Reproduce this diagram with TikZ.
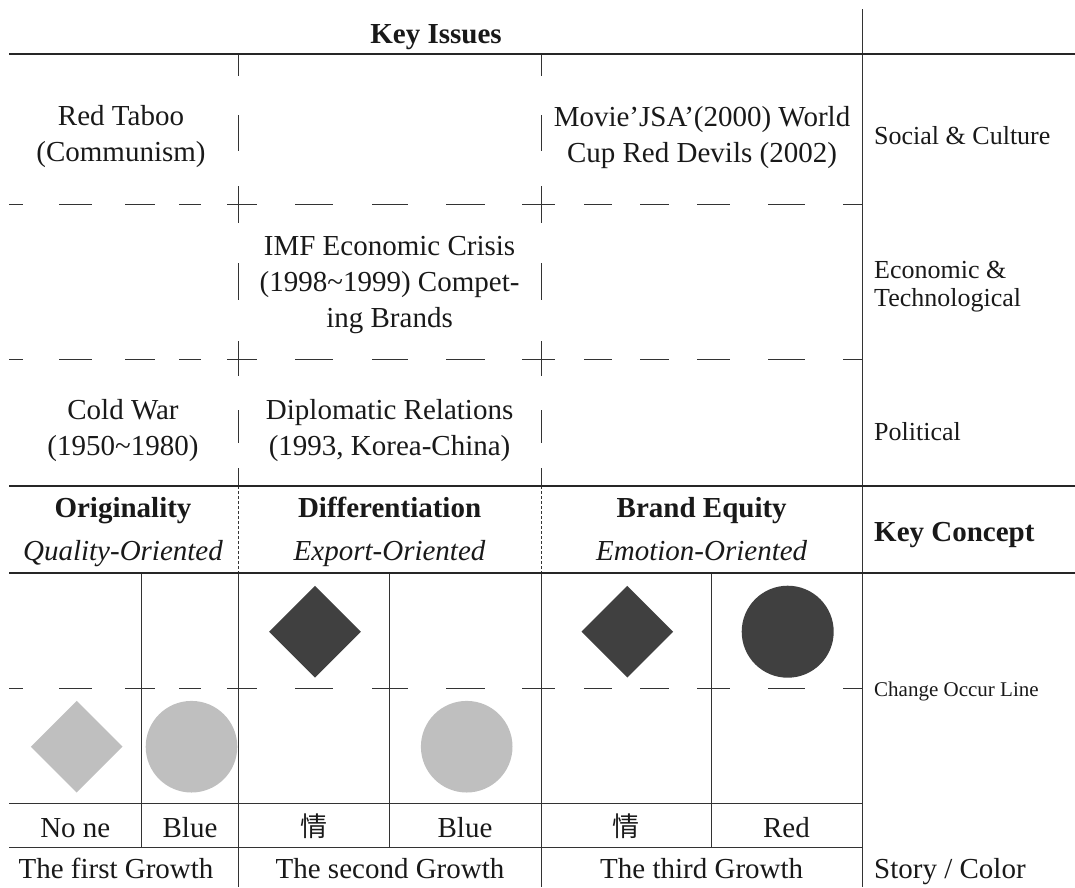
\documentclass[tikz,border=0pt]{standalone}
\usepackage{fontspec}
\setmainfont{Liberation Serif}
\newfontfamily\cjkfont{Noto Sans CJK SC}
\begin{document}
\begin{tikzpicture}[x=1pt,y=-1pt,
  thinline/.style={line width=0.9pt, draw=black!80},
  fineline/.style={line width=0.6pt, draw=black!80, dash pattern=on 3pt off 2pt},
  thickline/.style={line width=2.6pt, draw=black!85},
  tx/.style={font=\fontsize{29}{36}\selectfont, align=center, inner sep=0pt, text=black!90},
  side/.style={font=\fontsize{26}{28}\selectfont, align=left, inner sep=0pt, text=black!90},
  darkshape/.style={fill=black!75},
  lightshape/.style={fill=black!25}]
\useasboundingbox (0,0) rectangle (1075,887);

% shapes
\foreach \cx/\cy/\st in {315/631.7/darkshape, 627.3/631.7/darkshape, 76.7/746.7/lightshape}
  \fill[\st] (\cx-45.8,\cy) -- (\cx,\cy-45.8) -- (\cx+45.8,\cy) -- (\cx,\cy+45.8) -- cycle;
\fill[darkshape] (787.7,631.7) circle[radius=46pt];
\fill[lightshape] (191.5,746.7) circle[radius=45.8pt];
\fill[lightshape] (466.7,746.7) circle[radius=45.8pt];

% dashed horizontal lines
\foreach \y in {204,359.7,688.3}
  \foreach \a/\b in {9/23,59/92,125/155,179/201,227/257,295/333,372/408,446/485,522/555,584/612,640/669,697/730,768/805,843/862}
    \draw[thinline] (\a,\y) -- (\b,\y);

% dashed vertical lines in key issues area
\foreach \x in {238.3,541}
  \foreach \a/\b in {54/76,115/151,186/223,263/300,341/376,410/443,468/486}
    \draw[thinline] (\x,\a) -- (\x,\b);

% fine dashed verticals in key concept row
\foreach \x in {238.3,541}
  \draw[fineline] (\x,486) -- (\x,573);

% solid verticals
\foreach \x in {141.7,389.3,711}
  \draw[thinline] (\x,573) -- (\x,847.7);
\foreach \x in {238.3,541}
  \draw[thinline] (\x,573) -- (\x,887);
\draw[thinline] (862,9.4) -- (862,887);

% solid horizontals
\draw[thinline] (9,803.3) -- (862,803.3);
\draw[thinline] (9,847.7) -- (862,847.7);

% thick horizontals
\foreach \y in {54,486,573}
  \draw[thickline] (9,\y) -- (1075,\y);

% texts
\node[tx,anchor=base] (keyissues) at (436,43) {\textbf{Key Issues}};
\node[tx] (redtaboo) at (121,137) {Red Taboo\\(Communism)};
\node[tx] (movie) at (702,138) {Movie'JSA'(2000) World\\Cup Red Devils (2002)};
\node[tx] (imf) at (389.6,285) {IMF Economic Crisis\\(1998\textasciitilde1999) Compet-\\ing Brands};
\node[tx] (coldwar) at (123,431) {Cold War\\(1950\textasciitilde1980)};
\node[tx] (diplo) at (389.6,431) {Diplomatic Relations\\(1993, Korea-China)};

\node[side,anchor=base west] (social) at (874,144) {Social \& Culture};
\node[side,anchor=center,anchor=west] (econ) at (874,287) {Economic \&\\Technological};
\node[side,anchor=base west] (political) at (874,440) {Political};

\node[tx,anchor=base] (orig) at (123,517) {\textbf{Originality}};
\node[tx,anchor=base] (quality) at (123,560) {\textit{Quality-Oriented}};
\node[tx,anchor=base] (diff) at (389.6,517) {\textbf{Differentiation}};
\node[tx,anchor=base] (export) at (389.6,560) {\textit{Export-Oriented}};
\node[tx,anchor=base] (brand) at (701.7,517) {\textbf{Brand Equity}};
\node[tx,anchor=base] (emotion) at (701.7,560) {\textit{Emotion-Oriented}};
\node[tx,anchor=base west] (keyconcept) at (874,541) {\textbf{Key Concept}};

\node[side,anchor=base west,font=\fontsize{21}{24}\selectfont] (change) at (874,696) {Change Occur Line};

\node[tx,anchor=base] (none) at (75.3,837) {No ne};
\node[tx,anchor=base] (blue1) at (190,837) {Blue};
\node[tx,anchor=base,font=\cjkfont\fontsize{27}{30}\selectfont] (qing1) at (313.8,836) {情};
\node[tx,anchor=base] (blue2) at (465,837) {Blue};
\node[tx,anchor=base,font=\cjkfont\fontsize{27}{30}\selectfont] (qing2) at (626,836) {情};
\node[tx,anchor=base] (red) at (786.5,837) {Red};

\node[tx,anchor=base] (first) at (116,878) {The first Growth};
\node[tx,anchor=base] (second) at (390,878) {The second Growth};
\node[tx,anchor=base] (third) at (701.7,878) {The third Growth};
\node[tx,anchor=base west] (story) at (874,878) {Story / Color};
\end{tikzpicture}
\end{document}
